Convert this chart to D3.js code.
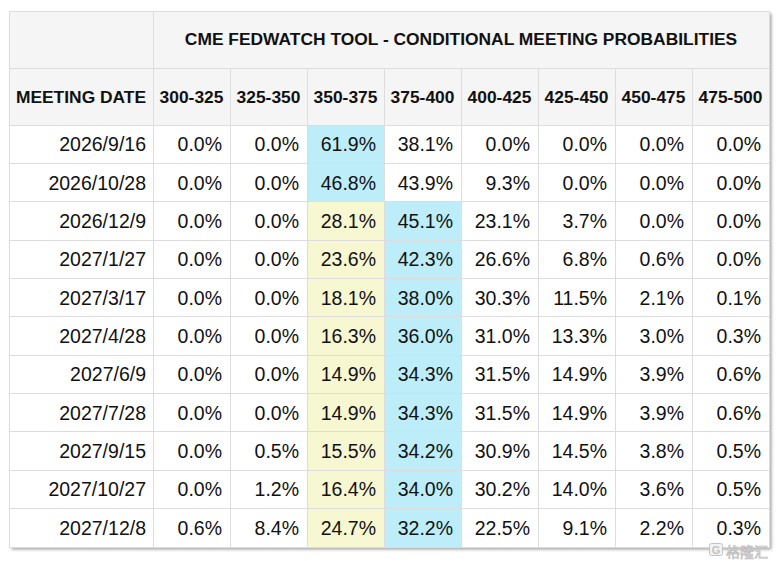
<!DOCTYPE html>
<html>
<head>
<meta charset="utf-8">
<script src="https://cdn.jsdelivr.net/npm/d3@7"></script>
<style>
  html, body { margin: 0; padding: 0; background: #fff; }
  svg { display: block; font-family: "Liberation Sans", Arial, sans-serif; }
</style>
</head>
<body>
<div id="chart"></div>
<script>
// 表のデータ
const title = "CME FEDWATCH TOOL - CONDITIONAL MEETING PROBABILITIES";
const dateHeader = "MEETING DATE";
const ranges = ["300-325", "325-350", "350-375", "375-400", "400-425", "425-450", "450-475", "475-500"];
const dates = ["2026/9/16", "2026/10/28", "2026/12/9", "2027/1/27", "2027/3/17", "2027/4/28",
  "2027/6/9", "2027/7/28", "2027/9/15", "2027/10/27", "2027/12/8"];
const probs = [
  [0.0, 0.0, 61.9, 38.1, 0.0, 0.0, 0.0, 0.0],
  [0.0, 0.0, 46.8, 43.9, 9.3, 0.0, 0.0, 0.0],
  [0.0, 0.0, 28.1, 45.1, 23.1, 3.7, 0.0, 0.0],
  [0.0, 0.0, 23.6, 42.3, 26.6, 6.8, 0.6, 0.0],
  [0.0, 0.0, 18.1, 38.0, 30.3, 11.5, 2.1, 0.1],
  [0.0, 0.0, 16.3, 36.0, 31.0, 13.3, 3.0, 0.3],
  [0.0, 0.0, 14.9, 34.3, 31.5, 14.9, 3.9, 0.6],
  [0.0, 0.0, 14.9, 34.3, 31.5, 14.9, 3.9, 0.6],
  [0.0, 0.5, 15.5, 34.2, 30.9, 14.5, 3.8, 0.5],
  [0.0, 1.2, 16.4, 34.0, 30.2, 14.0, 3.6, 0.5],
  [0.6, 8.4, 24.7, 32.2, 22.5, 9.1, 2.2, 0.3]
];
const currentRange = "350-375"; // 現在の目標レンジ（黄色）

const W = 783, H = 561;
const tLeft = 9, firstColRight = 153, tRight = 769;
const tTop = 11, head1 = 68, head2 = 125, tBottom = 547;
const border = "#dddddd";
const headBg = "#f5f5f5";
const blue = "#bcedf9";
const yellow = "#f7f7d2";

const svg = d3.select("#chart").append("svg")
  .attr("width", W)
  .attr("height", H);

const defs = svg.append("defs");
const f = defs.append("filter").attr("id", "shadow")
  .attr("x", "-5%").attr("y", "-5%").attr("width", "110%").attr("height", "110%");
f.append("feDropShadow")
  .attr("dx", 2.5).attr("dy", 2.5).attr("stdDeviation", 1.6)
  .attr("flood-color", "#000").attr("flood-opacity", 0.35);

const xScale = d3.scaleBand().domain(ranges).range([firstColRight, tRight]);
const yScale = d3.scaleBand().domain(dates).range([head2, tBottom]);

// 外枠＋影
svg.append("rect")
  .attr("x", tLeft).attr("y", tTop)
  .attr("width", tRight - tLeft).attr("height", tBottom - tTop)
  .attr("fill", "#fff")
  .attr("filter", "url(#shadow)");

// ヘッダー背景
svg.append("rect")
  .attr("x", tLeft).attr("y", tTop)
  .attr("width", tRight - tLeft).attr("height", head2 - tTop)
  .attr("fill", headBg);

// セル背景
const rowsG = svg.append("g");
probs.forEach((row, i) => {
  const mx = d3.max(row);
  row.forEach((v, j) => {
    let fill = null;
    if (v === mx) fill = blue;
    else if (ranges[j] === currentRange) fill = yellow;
    if (fill) {
      rowsG.append("rect")
        .attr("x", xScale(ranges[j]))
        .attr("y", yScale(dates[i]))
        .attr("width", xScale.bandwidth())
        .attr("height", yScale.bandwidth())
        .attr("fill", fill);
    }
  });
});

// 罫線
const lines = svg.append("g").attr("stroke", border).attr("stroke-width", 1).attr("shape-rendering", "crispEdges");
lines.append("line").attr("x1", firstColRight).attr("x2", firstColRight).attr("y1", tTop).attr("y2", tBottom);
ranges.forEach((r, j) => {
  if (j === 0) return;
  lines.append("line").attr("x1", xScale(r)).attr("x2", xScale(r)).attr("y1", head1).attr("y2", tBottom);
});
lines.append("line").attr("x1", tLeft).attr("x2", tRight).attr("y1", head1).attr("y2", head1);
lines.append("line").attr("x1", tLeft).attr("x2", tRight).attr("y1", head2).attr("y2", head2);
dates.forEach((d, i) => {
  if (i === 0) return;
  lines.append("line").attr("x1", tLeft).attr("x2", tRight).attr("y1", yScale(d)).attr("y2", yScale(d));
});
lines.append("rect")
  .attr("x", tLeft).attr("y", tTop)
  .attr("width", tRight - tLeft).attr("height", tBottom - tTop)
  .attr("fill", "none");

// ヘッダー文字
svg.append("text")
  .attr("x", (firstColRight + tRight) / 2)
  .attr("y", (tTop + head1) / 2 + 5.5)
  .attr("text-anchor", "middle")
  .attr("font-weight", "bold")
  .attr("font-size", 17.4)
  .attr("fill", "#111")
  .text(title);

svg.append("text")
  .attr("x", (tLeft + firstColRight) / 2)
  .attr("y", (head1 + head2) / 2 + 6)
  .attr("text-anchor", "middle")
  .attr("font-weight", "bold")
  .attr("font-size", 17.4)
  .attr("fill", "#111")
  .text(dateHeader);

svg.append("g").selectAll("text")
  .data(ranges)
  .join("text")
  .attr("x", d => xScale(d) + xScale.bandwidth() / 2)
  .attr("y", (head1 + head2) / 2 + 6)
  .attr("text-anchor", "middle")
  .attr("font-weight", "bold")
  .attr("font-size", 17.4)
  .attr("fill", "#111")
  .text(d => d);

// データ文字
const body = svg.append("g").attr("font-size", 19.5).attr("fill", "#111");
dates.forEach((d, i) => {
  const yc = yScale(d) + yScale.bandwidth() / 2 + 7;
  body.append("text")
    .attr("x", firstColRight - 7)
    .attr("y", yc)
    .attr("text-anchor", "end")
    .text(d);
  probs[i].forEach((v, j) => {
    body.append("text")
      .attr("x", xScale(ranges[j]) + xScale.bandwidth() - 8)
      .attr("y", yc)
      .attr("text-anchor", "end")
      .text(v.toFixed(1) + "%");
  });
});

// 透かし
const wm = svg.append("g");
wm.append("rect")
  .attr("x", 709.5).attr("y", 543.5)
  .attr("width", 13).attr("height", 12).attr("rx", 2)
  .attr("fill", "#f2f2f2").attr("stroke", "#c4c4c4");
wm.append("text")
  .attr("x", 716).attr("y", 553.5)
  .attr("text-anchor", "middle")
  .attr("font-size", 11)
  .attr("font-weight", "bold")
  .attr("fill", "#c4c4c4")
  .text("G");
wm.append("text")
  .attr("x", 726).attr("y", 557)
  .attr("font-family", "Noto Sans CJK SC")
  .attr("font-size", 14)
  .attr("fill", "#f2f2f2")
  .attr("stroke", "#bcbcbc")
  .attr("stroke-width", 0.7)
  .text("格隆汇");
</script>
</body>
</html>
